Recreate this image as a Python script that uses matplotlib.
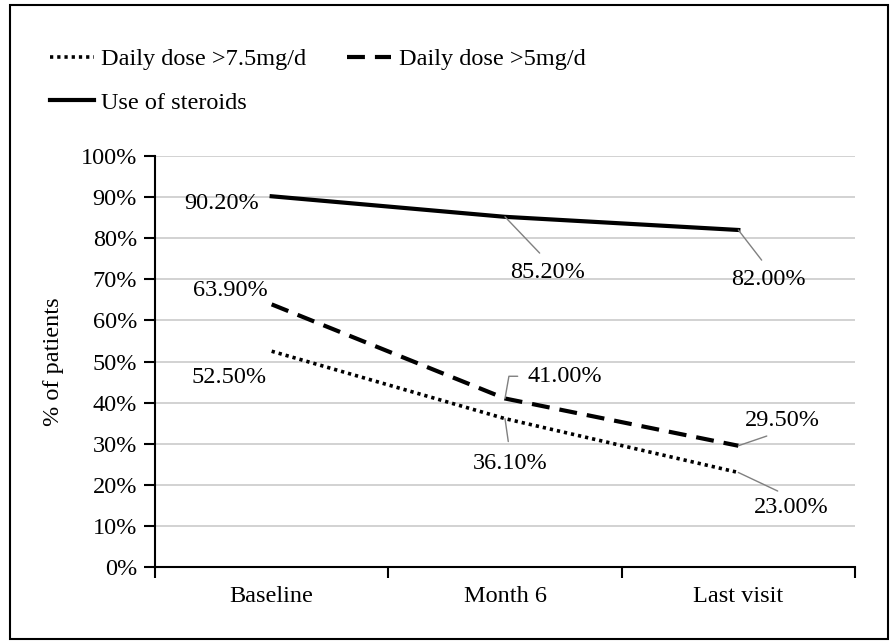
import matplotlib
matplotlib.use("Agg")
import matplotlib.pyplot as plt
from matplotlib.patches import Rectangle
from matplotlib.ticker import PercentFormatter

plt.rcParams['font.family'] = ['Liberation Serif', 'DejaVu Serif']

categories = ['Baseline', 'Month 6', 'Last visit']
dose_75 = [52.5, 36.1, 23.0]
dose_5 = [63.9, 41.0, 29.5]
steroids = [90.2, 85.2, 82.0]
yticks = list(range(0, 101, 10))

x = [0.5, 1.5, 2.5]
fs = 17.5

fig = plt.figure(figsize=(8.96, 6.43), dpi=100)
ax = fig.add_axes([155/896, 1 - 567/643, 700/896, 411/643])

l1, = ax.plot(x, dose_75, color='black', lw=2.6, linestyle=(0, (0.9, 1.1)), label='Daily dose >7.5mg/d')
l2, = ax.plot(x, dose_5, color='black', lw=3, linestyle=(0, (4.3, 2.4)), label='Daily dose >5mg/d')
l3, = ax.plot(x, steroids, color='black', lw=3, label='Use of steroids')

ax.set_xlim(0, 3)
ax.set_ylim(0, 100)
ax.set_yticks(yticks)
ax.yaxis.set_major_formatter(PercentFormatter(decimals=0))
ax.set_xticks([0, 1, 2, 3])
ax.set_xticklabels([])
ax.set_xticks(x, minor=True)
ax.set_xticklabels(categories, minor=True)
ax.tick_params(axis='x', which='minor', length=0, pad=14, labelsize=fs)
ax.tick_params(axis='x', which='major', length=8, width=1.5, direction='out')
ax.tick_params(axis='y', length=8, width=1.5, direction='out', pad=5, labelsize=fs)
ax.grid(axis='y', color='#cfcfcf', lw=1.3)
ax.set_axisbelow(True)
for s in ['top', 'right']:
    ax.spines[s].set_visible(False)
for s in ['left', 'bottom']:
    ax.spines[s].set_linewidth(1.5)
ax.set_ylabel('% of patients', fontsize=fs, labelpad=12)

# data labels: (series, index, offset in points, anchor on text for leader)
lead = dict(arrowstyle='-', color='#808080', lw=1, shrinkA=2, shrinkB=0)
labels = [
    (steroids, 0, (-36, -5), None),
    (steroids, 1, (31, -40), (0.5, 1.0)),
    (steroids, 2, (22, -36), (0.5, 1.0)),
    (dose_5, 0, (-30, 10), None),
    (dose_5, 1, (43, 16), 'bracket'),
    (dose_5, 2, (32, 18.5), (0.5, 0.0)),
    (dose_75, 0, (-31, -19), None),
    (dose_75, 1, (3.5, -32), (0.5, 1.0)),
    (dose_75, 2, (38, -25.5), (0.5, 1.0)),
]
for series, i, off, rel in labels:
    kw = {}
    if rel == 'bracket':
        kw['arrowprops'] = dict(lead, relpos=(0.0, 0.5), shrinkA=5,
                                connectionstyle='angle,angleA=0,angleB=80,rad=0')
    elif rel is not None:
        kw['arrowprops'] = dict(lead, relpos=rel, shrinkA=6)
    ax.annotate('%.2f%%' % series[i], xy=(x[i], series[i]), xytext=off,
                textcoords='offset points', ha='center', va='center',
                fontsize=fs, **kw)

fig.legend(handles=[l1, l3, l2], ncol=2, loc='upper left',
           bbox_to_anchor=(50/896, 1 - 48/643), frameon=False, fontsize=fs,
           handlelength=1.8, handletextpad=0.3, columnspacing=1.7,
           labelspacing=0.9, borderpad=0, borderaxespad=0)

fig.patches.append(Rectangle((10/896, 4/643), 878/896, 634/643, fill=False,
                             lw=1.5, edgecolor='black', transform=fig.transFigure))

fig.savefig('out.png', dpi=100)
